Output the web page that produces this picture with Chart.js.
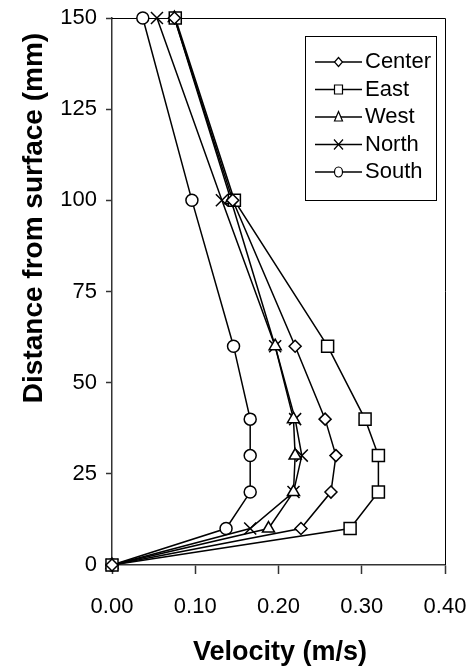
<!DOCTYPE html>
<html><head><meta charset="utf-8">
<script src="https://cdn.jsdelivr.net/npm/chart.js@4/dist/chart.umd.min.js"></script>
<style>html,body{margin:0;padding:0;background:#fff;}#wrap{width:471px;height:667px;position:relative;}canvas{display:block;}</style>
</head><body><div id="wrap"><canvas id="c" width="471" height="667"></canvas></div>
<script>
// Data (y = distance from surface in mm, x = velocity in m/s)
const depths = [0, 10, 20, 30, 40, 60, 100, 150];
const center = [0, 0.227, 0.263, 0.269, 0.256, 0.220, 0.145, 0.075];
const east   = [0, 0.286, 0.320, 0.320, 0.304, 0.259, 0.147, 0.076];
const west   = [0, 0.188, 0.218, 0.220, 0.218, 0.196, 0.143, 0.075];
const north  = [0, 0.166, 0.218, 0.228, 0.220, 0.196, 0.132, 0.054];
const south  = [0, 0.137, 0.166, 0.166, 0.166, 0.146, 0.096, 0.037];
const seriesNames = ['Center', 'East', 'West', 'North', 'South'];
const xTickValues = [0, 0.1, 0.2, 0.3, 0.4];
const yTickValues = [0, 25, 50, 75, 100, 125, 150];
const xTitle = 'Velocity (m/s)';
const yTitle = 'Distance from surface (mm)';

const FONT = "'Liberation Sans', Arial, sans-serif";
const seriesValues = [center, east, west, north, south];
const styles = [
  {pointStyle: 'rectRot', radius: 6, legend: 'diamond'},
  {pointStyle: 'rect', radius: 8.5, legend: 'square'},
  {pointStyle: 'triangle', radius: 7, legend: 'triangle'},
  {pointStyle: 'crossRot', radius: 8.5, legend: 'cross'},
  {pointStyle: 'circle', radius: 6, legend: 'circle'}
];

const datasets = seriesNames.map((name, i) => ({
  label: name,
  data: depths.map((d, j) => ({x: seriesValues[i][j], y: d})),
  showLine: true,
  borderColor: '#000',
  borderWidth: 1.5,
  backgroundColor: '#fff',
  pointStyle: styles[i].pointStyle,
  pointRadius: styles[i].radius,
  pointHoverRadius: styles[i].radius,
  pointBorderColor: '#000',
  pointBackgroundColor: '#fff',
  pointBorderWidth: 1.5,
  clip: false,
  tension: 0
}));

function legendMarker(ctx, kind, x, y) {
  ctx.beginPath();
  if (kind === 'diamond') {
    ctx.moveTo(x, y - 4.5); ctx.lineTo(x + 4, y); ctx.lineTo(x, y + 4.5); ctx.lineTo(x - 4, y); ctx.closePath();
  } else if (kind === 'square') {
    ctx.rect(x - 4, y - 4.5, 8, 9);
  } else if (kind === 'triangle') {
    ctx.moveTo(x, y - 5.5); ctx.lineTo(x + 4, y + 4); ctx.lineTo(x - 4, y + 4); ctx.closePath();
  } else if (kind === 'cross') {
    ctx.moveTo(x - 4.5, y - 5); ctx.lineTo(x + 4.5, y + 5); ctx.moveTo(x + 4.5, y - 5); ctx.lineTo(x - 4.5, y + 5);
    ctx.stroke(); return;
  } else if (kind === 'circle') {
    ctx.ellipse(x, y, 4, 5, 0, 0, Math.PI * 2);
  }
  ctx.fill(); ctx.stroke();
}

const decor = {
  id: 'decor',
  beforeDatasetsDraw(chart) {
    const {ctx, chartArea: a} = chart;
    ctx.save();
    ctx.strokeStyle = '#000';
    ctx.lineWidth = 1;
    ctx.beginPath();
    ctx.moveTo(a.left, a.top + 0.5); ctx.lineTo(a.right + 0.5, a.top + 0.5); ctx.lineTo(a.right + 0.5, a.bottom);
    ctx.stroke();
    ctx.restore();
  },
  afterDraw(chart) {
    const {ctx} = chart;
    ctx.save();
    ctx.fillStyle = '#000';
    ctx.font = 'bold 27px ' + FONT;
    ctx.textAlign = 'center';
    ctx.textBaseline = 'alphabetic';
    ctx.fillText(xTitle, 280, 660);
    ctx.font = 'bold 28px ' + FONT;
    ctx.translate(42, 218);
    ctx.rotate(-Math.PI / 2);
    ctx.fillText(yTitle, 0, 0);
    ctx.restore();

    // legend
    ctx.save();
    const L = 305.5, T = 36.5, W = 131, H = 164;
    ctx.fillStyle = '#fff';
    ctx.fillRect(L, T, W, H);
    ctx.strokeStyle = '#000';
    ctx.lineWidth = 1;
    ctx.strokeRect(L, T, W, H);
    ctx.font = '22px ' + FONT;
    ctx.textAlign = 'left';
    ctx.textBaseline = 'alphabetic';
    chart.data.datasets.forEach((ds, i) => {
      const y = 62 + i * 27.5;
      ctx.strokeStyle = '#000';
      ctx.lineWidth = 1.5;
      ctx.beginPath(); ctx.moveTo(315, y); ctx.lineTo(362, y); ctx.stroke();
      ctx.fillStyle = '#fff';
      ctx.lineWidth = 1.2;
      legendMarker(ctx, styles[i].legend, 338.5, y);
      ctx.fillStyle = '#000';
      ctx.fillText(ds.label, 365, y + 6);
    });
    ctx.restore();
  }
};

new Chart(document.getElementById('c'), {
  type: 'scatter',
  data: {datasets},
  options: {
    responsive: false,
    animation: false,
    devicePixelRatio: 1,
    layout: {padding: {top: 18, right: 26, left: 0, bottom: 0}},
    plugins: {legend: {display: false}, tooltip: {enabled: false}},
    scales: {
      x: {
        type: 'linear', min: 0, max: 0.4,
        afterFit: s => { s.height = 102; s.paddingLeft = 0; s.paddingRight = 0; },
        afterBuildTicks: s => { s.ticks = xTickValues.map(v => ({value: v})); },
        ticks: {
          callback: v => Number(v).toFixed(2),
          font: {family: FONT, size: 22}, color: '#000', padding: 20, maxRotation: 0, autoSkip: false
        },
        grid: {drawOnChartArea: false, drawTicks: true, tickLength: 9, color: '#333', tickWidth: 1.5},
        border: {display: true, color: '#333', width: 1.5}
      },
      y: {
        type: 'linear', min: 0, max: 150,
        afterFit: s => { s.width = 112; s.paddingTop = 0; s.paddingBottom = 0; },
        afterBuildTicks: s => { s.ticks = yTickValues.map(v => ({value: v})); },
        ticks: {
          font: {family: FONT, size: 22}, color: '#000', padding: 9, autoSkip: false
        },
        grid: {drawOnChartArea: false, drawTicks: true, tickLength: 6, color: '#333', tickWidth: 1.5},
        border: {display: true, color: '#333', width: 1.5}
      }
    }
  },
  plugins: [decor]
});
</script>
</body></html>
